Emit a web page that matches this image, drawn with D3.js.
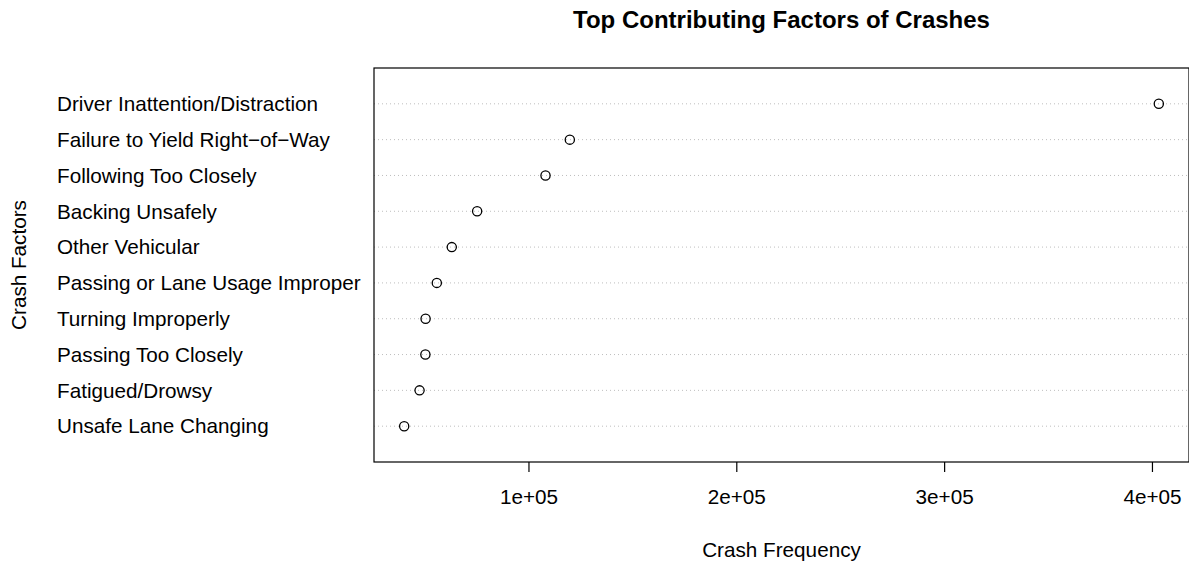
<!DOCTYPE html>
<html>
<head>
<meta charset="utf-8">
<script src="https://cdn.jsdelivr.net/npm/d3@7"></script>
<style>
  body { margin: 0; background: #fff; }
  svg { display: block; }
  text { font-family: "Liberation Sans", Arial, Helvetica, sans-serif; fill: #000; }
</style>
</head>
<body>
<svg id="chart" width="1189" height="565"></svg>
<script>
const categories = [
  "Driver Inattention/Distraction",
  "Failure to Yield Right\u2212of\u2212Way",
  "Following Too Closely",
  "Backing Unsafely",
  "Other Vehicular",
  "Passing or Lane Usage Improper",
  "Turning Improperly",
  "Passing Too Closely",
  "Fatigued/Drowsy",
  "Unsafe Lane Changing"
];
const crashCounts = [403300, 119900, 108200, 75300, 63100, 55900, 50500, 50400, 47600, 40200];
const xTicks = [100000, 200000, 300000, 400000];
const xTickLabels = ["1e+05", "2e+05", "3e+05", "4e+05"];
const titleText = "Top Contributing Factors of Crashes";
const xTitle = "Crash Frequency";
const yTitle = "Crash Factors";

(function () {
const svg = d3.select("#chart");
const pLeft = 374, pRight = 1189, pTop = 68, pBottom = 462;
const fs = 20.7;

const vmin = d3.min(crashCounts), vmax = d3.max(crashCounts);
const pad = 0.04 * (vmax - vmin);
const x = d3.scaleLinear().domain([vmin - pad, vmax + pad]).range([pLeft, pRight]);
const n = categories.length;
const y = d3.scaleLinear().domain([0, n + 1]).range([pBottom, pTop]);
const rowPos = (i) => y(n - i);

svg.append("g").selectAll("line").data(categories).join("line")
  .attr("x1", pLeft).attr("x2", pRight)
  .attr("y1", (d, i) => rowPos(i)).attr("y2", (d, i) => rowPos(i))
  .attr("stroke", "#bebebe").attr("stroke-width", 1)
  .attr("stroke-dasharray", "1,3");

svg.append("g").selectAll("circle").data(crashCounts).join("circle")
  .attr("cx", d => x(d)).attr("cy", (d, i) => rowPos(i))
  .attr("r", 4.6).attr("fill", "none").attr("stroke", "#000").attr("stroke-width", 1.3);

svg.append("rect").attr("x", pLeft).attr("y", pTop)
  .attr("width", pRight - pLeft).attr("height", pBottom - pTop)
  .attr("fill", "none").attr("stroke", "#000").attr("stroke-width", 1.2);

svg.append("g").selectAll("text").data(categories).join("text")
  .attr("x", 57).attr("y", (d, i) => rowPos(i))
  .attr("dy", "0.35em").attr("font-size", fs)
  .text(d => d);

const axis = d3.axisBottom(x).tickValues(xTicks)
  .tickFormat((d, i) => xTickLabels[i]).tickSize(10).tickSizeOuter(0);
const gx = svg.append("g").attr("transform", `translate(0,${pBottom})`).call(axis);
gx.select(".domain").remove();
gx.selectAll(".tick line").attr("stroke", "#000").attr("stroke-width", 1.2);
gx.selectAll(".tick text").attr("font-size", fs).attr("y", 42).attr("dy", 0)
  .attr("font-family", "'Liberation Sans', Arial, sans-serif").attr("fill", "#000");

svg.append("text").attr("x", (pLeft + pRight) / 2).attr("y", 28)
  .attr("text-anchor", "middle").attr("font-size", 24).attr("font-weight", "bold")
  .text(titleText);
svg.append("text").attr("x", (pLeft + pRight) / 2).attr("y", 557)
  .attr("text-anchor", "middle").attr("font-size", fs)
  .text(xTitle);
svg.append("text").attr("transform", `translate(26,${(pTop + pBottom) / 2}) rotate(-90)`)
  .attr("text-anchor", "middle").attr("font-size", fs)
  .text(yTitle);
})();
</script>
</body>
</html>
